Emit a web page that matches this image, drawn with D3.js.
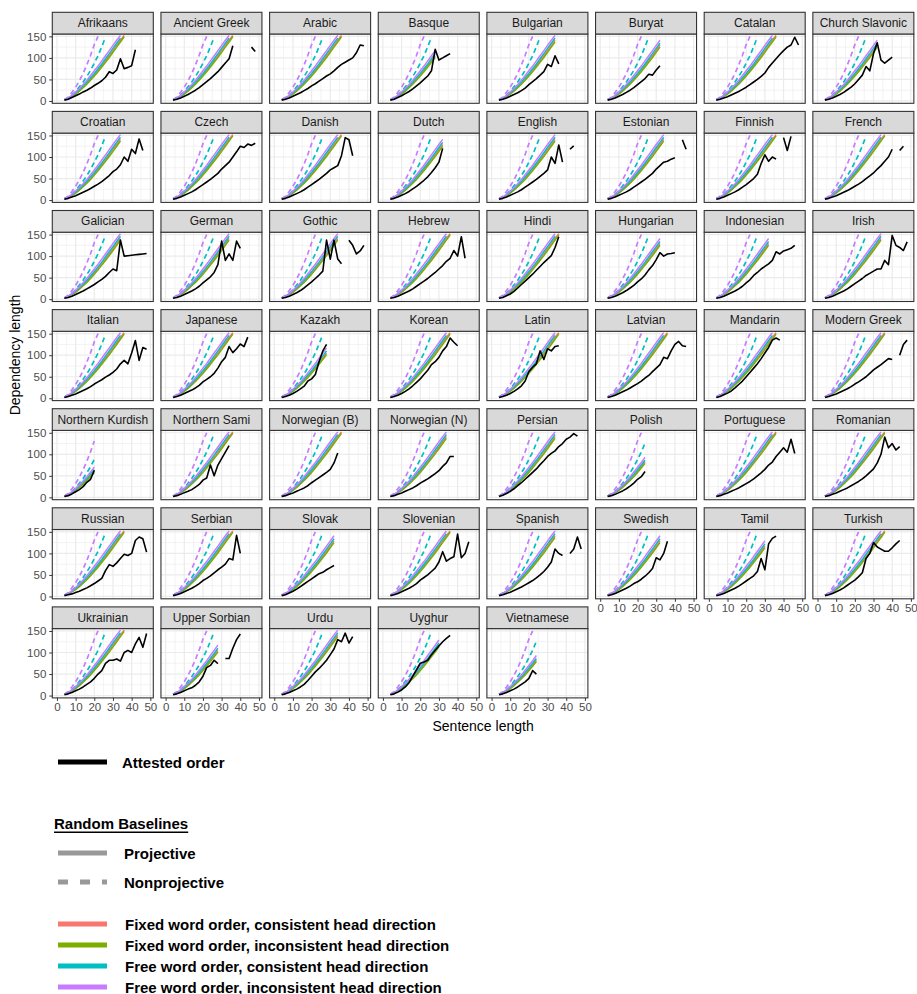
<!DOCTYPE html>
<html>
<head>
<meta charset="utf-8">
<script src="https://cdn.jsdelivr.net/npm/d3@7"></script>
<style>
  body { margin: 0; background: #fff; }
  text { font-family: "Liberation Sans", Arial, Helvetica, sans-serif; }
</style>
</head>
<body>
<script>
// facet names, in panel order
const languages = ["Afrikaans","Ancient Greek","Arabic","Basque","Bulgarian","Buryat","Catalan","Church Slavonic",
  "Croatian","Czech","Danish","Dutch","English","Estonian","Finnish","French",
  "Galician","German","Gothic","Hebrew","Hindi","Hungarian","Indonesian","Irish",
  "Italian","Japanese","Kazakh","Korean","Latin","Latvian","Mandarin","Modern Greek",
  "Northern Kurdish","Northern Sami","Norwegian (B)","Norwegian (N)","Persian","Polish","Portuguese","Romanian",
  "Russian","Serbian","Slovak","Slovenian","Spanish","Swedish","Tamil","Turkish",
  "Ukrainian","Upper Sorbian","Urdu","Uyghur","Vietnamese"];

// sentence lengths for the attested series
const lengths = [4,6,8,10,12,14,16,18,20,22,24,26,28,30,32,34,36,38,40,42,44,46,48];
const _ = null;

// attested order, mean dependency length per sentence length (one row per language)
const attested = [
  [2,4,8,12,16,21,25,30,36,41,47,55,68,64,72,98,75,78,82,119,_,_,_],        // Afrikaans
  [2,4,7,11,15,20,25,31,38,45,52,60,68,78,88,98,128,_,_,_,_,125,115],       // Ancient Greek
  [2,4,7,11,15,19,24,29,35,40,46,52,58,63,70,78,85,90,95,100,112,130,128],  // Arabic
  [2,4,8,12,17,22,28,35,42,50,58,70,120,95,100,105,110,_,_,_,_,_,_],        // Basque
  [2,4,7,11,15,19,24,30,38,45,52,60,68,85,80,105,86,_,_,_,_,_,_],           // Bulgarian
  [2,4,7,11,15,20,25,31,38,45,52,62,60,72,82,_,_,_,_,_,_,_,_],              // Buryat
  [2,4,7,10,14,18,22,27,32,38,44,50,57,65,78,88,98,108,117,125,130,148,130],// Catalan
  [2,4,7,11,15,20,26,32,40,50,60,80,70,110,135,95,88,95,102,_,_,_,_],       // Church Slavonic
  [2,4,7,10,14,18,22,27,32,37,43,50,57,66,72,82,100,90,118,108,142,115,_],  // Croatian
  [2,4,7,11,15,19,24,30,36,42,48,55,62,72,80,88,100,112,125,122,130,127,132], // Czech
  [2,4,7,11,15,19,24,30,36,42,48,55,62,70,75,80,103,145,140,103,_,_,_],     // Danish
  [2,4,7,11,15,20,26,32,39,46,54,64,75,88,120,_,_,_,_,_,_,_,_],             // Dutch
  [2,4,7,11,15,19,24,30,36,42,48,55,62,70,100,85,128,88,_,118,126,_,_],     // English
  [2,4,7,11,15,19,24,30,36,42,48,55,62,72,80,88,90,95,98,_,140,118,_],      // Estonian
  [2,4,7,11,15,19,24,30,36,43,50,60,85,105,90,100,95,_,145,115,148,_,_],    // Finnish
  [2,4,7,10,14,18,22,27,32,37,43,50,56,63,72,80,90,100,118,_,115,125,_],    // French
  [2,4,7,11,15,19,24,29,34,40,46,53,62,70,66,137,100,101,102,103,104,105,106], // Galician
  [2,4,7,11,15,19,24,30,38,45,52,62,80,135,90,105,90,135,118,_,_,_,_],      // German
  [2,4,7,11,15,20,26,33,40,48,56,65,137,93,137,93,82,_,137,125,105,112,125],// Gothic
  [2,4,7,11,15,19,24,30,36,42,48,55,62,70,78,88,95,113,100,145,95,_,_],     // Hebrew
  [2,4,8,12,18,26,34,42,50,58,67,76,85,93,101,120,145,_,_,_,_,_,_],         // Hindi
  [2,4,7,11,15,20,26,32,40,47,56,68,78,92,108,100,105,106,108,_,_,_,_],     // Hungarian
  [2,4,7,11,15,19,24,30,38,45,55,62,70,76,82,90,110,105,112,115,118,125,_], // Indonesian
  [2,4,7,11,15,19,24,30,36,42,48,55,60,65,70,70,90,80,148,125,120,113,133], // Irish
  [2,4,7,10,14,18,22,27,33,38,43,49,54,60,68,80,88,80,105,134,88,118,114],  // Italian
  [2,4,7,11,15,19,24,30,38,44,50,58,70,85,95,120,106,115,126,120,142,_,_],  // Japanese
  [2,4,7,11,16,22,28,40,45,55,85,110,125,_,_,_,_,_,_,_,_,_,_],              // Kazakh
  [2,4,7,11,16,22,29,37,45,55,65,78,85,95,110,120,140,130,122,_,_,_,_],     // Korean
  [2,4,7,11,16,22,29,40,62,72,80,110,90,115,110,120,122,_,_,_,_,_,_],       // Latin
  [2,4,7,11,15,19,24,29,34,40,47,53,62,70,78,95,92,110,125,132,122,120,_],  // Latvian
  [2,4,8,12,17,24,32,40,50,60,70,80,92,105,118,135,140,135,_,_,_,_,_],      // Mandarin
  [2,4,7,10,14,18,22,27,33,38,44,50,58,66,72,78,85,92,90,_,100,125,135],    // Modern Greek
  [2,4,8,13,18,25,35,42,63,_,_,_,_,_,_,_,_,_,_,_,_,_,_],                    // Northern Kurdish
  [2,4,7,11,14,18,24,30,40,45,75,50,75,90,105,120,_,_,_,_,_,_,_],           // Northern Sami
  [2,4,7,10,14,18,22,27,34,40,46,52,58,65,80,103,_,_,_,_,_,_,_],            // Norwegian (B)
  [2,4,7,10,14,18,22,27,33,38,43,49,55,62,72,80,95,95,_,_,_,_,_],           // Norwegian (N)
  [2,5,9,14,20,27,34,42,50,58,66,76,85,95,102,108,118,125,135,140,148,142,_], // Persian
  [2,4,7,11,15,20,26,33,42,48,60,_,_,_,_,_,_,_,_,_,_,_,_],                  // Polish
  [2,4,7,10,14,18,22,27,32,37,43,50,57,65,75,82,95,105,115,105,135,102,_],  // Portuguese
  [2,4,7,10,14,18,22,27,32,37,43,50,58,66,80,100,140,115,125,110,118,_,_],  // Romanian
  [2,4,6,9,12,16,20,25,30,36,42,60,74,70,78,88,98,95,100,130,138,134,103],  // Russian
  [2,4,7,11,15,19,24,30,37,42,48,55,62,68,75,88,85,142,100,_,_,_,_],        // Serbian
  [2,4,8,12,17,23,29,35,41,47,53,56,62,67,72,_,_,_,_,_,_,_,_],              // Slovak
  [2,4,7,11,15,19,24,30,38,44,50,58,66,80,104,82,88,92,145,90,100,127,_],   // Slovenian
  [2,4,7,10,14,18,22,27,32,37,43,50,58,68,80,110,100,95,_,100,110,138,110], // Spanish
  [2,4,7,11,15,19,24,30,34,40,47,55,65,90,85,100,128,_,_,_,_,_,_],          // Swedish
  [2,4,7,11,15,19,24,30,36,42,48,58,88,62,122,135,140,_,_,_,_,_,_],         // Tamil
  [2,4,7,11,15,20,26,32,38,46,55,88,100,125,115,110,105,105,113,122,130,_,_], // Turkish
  [2,4,7,11,15,20,26,32,40,50,58,75,82,82,85,80,100,105,100,120,135,112,144], // Ukrainian
  [2,4,7,11,15,18,24,32,45,65,70,82,74,_,86,86,110,130,143,_,_,_,_],        // Upper Sorbian
  [2,4,7,11,15,20,26,35,45,55,63,72,82,95,108,130,125,145,122,137,_,_,_],   // Urdu
  [2,4,8,13,20,30,45,60,75,78,82,95,105,115,125,133,140,_,_,_,_,_,_],       // Uyghur
  [2,4,7,11,15,20,26,32,40,58,50,_,_,_,_,_,_,_,_,_,_,_,_]                   // Vietnamese
];

// random baselines (very similar in every language)
const baseLengths = [4,6,8,10,12,14,16,18,20,22,24,26,28,30,32,34,36];
const projFixedCon = [3,6,11,17,24,32,41,50,60,71,82,93,105,117,129,141,152];
const projFixedInc = [3,6,11,16,23,31,39,48,58,68,79,90,101,113,125,137,149];
const projFreeCon  = [3,7,12,19,27,35,44,54,64,75,86,98,110,122,134,146,_];
const projFreeInc  = [3,7,13,21,29,38,48,59,70,81,93,105,117,129,141,152,_];

const nonprojLengths = [4,6,8,10,12,14,16,18,20,22,24,26];
const nonprojFreeCon = [3,7,14,22,33,44,57,71,88,105,126,148];
const nonprojFreeInc = [3,9,20,32,47,64,84,106,131,150,_,_];

// longest sentence length covered by the baselines in each language
const projEnd = [40,37,36,28,35,32,36,33, 35,36,37,33,34,34,36,37, 35,34,34,37,36,33,32,35,
  36,37,28,36,36,36,36,37, 20,36,37,34,34,25,36,36, 37,37,33,38,35,33,31,38, 36,29,35,31,24];
const nonprojEnd = [26,26,26,26,26,26,26,26, 26,26,26,26,26,26,26,26, 26,26,26,26,26,26,26,26,
  26,26,26,26,26,26,26,26, 20,26,26,26,26,24,26,26, 26,26,26,26,26,26,26,26, 26,26,26,26,24];

const xTicks = [0,10,20,30,40,50];
const yTicks = [0,50,100,150];

const colors = {fixedCon: "#F8766D", fixedInc: "#7CAE00", freeCon: "#00BFC4", freeInc: "#C77CFF"};

// layout
const width = 917, height = 994;
const panelLeft = 52.3, colStep = 108.65, panelW = 101;
const stripTop = 12.3, rowStep = 99.1, stripH = 21.7, panelH = 69.3;
const ncol = 8;

const svg = d3.select("body").append("svg").attr("width", width).attr("height", height);

svg.append("defs").append("clipPath").attr("id", "clip")
  .append("rect").attr("width", panelW).attr("height", panelH);

const x = d3.scaleLinear().domain([-2.5, 51.6]).range([0, panelW]);
const y = d3.scaleLinear().domain([-5.4, 155.5]).range([panelH, 0]);

const line = d3.line()
  .defined(d => d[1] != null)
  .x(d => x(d[0]))
  .y(d => y(d[1]));

languages.forEach((lang, i) => {
  const col = i % ncol, row = Math.floor(i / ncol);
  const g = svg.append("g")
    .attr("transform", `translate(${panelLeft + col * colStep}, ${stripTop + stripH + row * rowStep})`);

  g.append("rect").attr("width", panelW).attr("height", panelH).attr("fill", "#fff");

  // grid
  const grid = g.append("g");
  [5,15,25,35,45].forEach(v => grid.append("line")
    .attr("x1", x(v)).attr("x2", x(v)).attr("y1", 0).attr("y2", panelH)
    .attr("stroke", "#EBEBEB").attr("stroke-width", 0.6));
  [25,75,125].forEach(v => grid.append("line")
    .attr("y1", y(v)).attr("y2", y(v)).attr("x1", 0).attr("x2", panelW)
    .attr("stroke", "#EBEBEB").attr("stroke-width", 0.6));
  xTicks.forEach(v => grid.append("line")
    .attr("x1", x(v)).attr("x2", x(v)).attr("y1", 0).attr("y2", panelH)
    .attr("stroke", "#EBEBEB").attr("stroke-width", 1.2));
  yTicks.forEach(v => grid.append("line")
    .attr("y1", y(v)).attr("y2", y(v)).attr("x1", 0).attr("x2", panelW)
    .attr("stroke", "#EBEBEB").attr("stroke-width", 1.2));

  const lines = g.append("g").attr("clip-path", "url(#clip)");

  // nonprojective baselines, dashed
  [[nonprojFreeCon, colors.freeCon], [nonprojFreeInc, colors.freeInc]].forEach(([vals, c]) => {
    const pts = nonprojLengths.map((l, j) => [l, vals[j]]).filter(d => d[0] <= nonprojEnd[i]);
    lines.append("path").attr("d", line(pts))
      .attr("fill", "none").attr("stroke", c).attr("stroke-width", 1.7)
      .attr("stroke-dasharray", "5,3.5");
  });

  // projective baselines, solid
  [[projFixedCon, colors.fixedCon], [projFixedInc, colors.fixedInc],
   [projFreeCon, colors.freeCon], [projFreeInc, colors.freeInc]].forEach(([vals, c]) => {
    const pts = baseLengths.map((l, j) => [l, vals[j]]).filter(d => d[0] <= projEnd[i]);
    lines.append("path").attr("d", line(pts))
      .attr("fill", "none").attr("stroke", c).attr("stroke-width", 1.5);
  });

  // attested order
  lines.append("path").attr("d", line(lengths.map((l, j) => [l, attested[i][j]])))
    .attr("fill", "none").attr("stroke", "#000").attr("stroke-width", 1.6)
    .attr("stroke-linejoin", "round");

  g.append("rect").attr("width", panelW).attr("height", panelH)
    .attr("fill", "none").attr("stroke", "#333333").attr("stroke-width", 1.1);

  // strip
  g.append("rect").attr("y", -stripH).attr("width", panelW).attr("height", stripH)
    .attr("fill", "#D9D9D9").attr("stroke", "#333333").attr("stroke-width", 1.1);
  g.append("text").attr("x", panelW / 2).attr("y", -stripH / 2)
    .attr("text-anchor", "middle").attr("dominant-baseline", "central")
    .attr("font-size", 12).attr("fill", "#1A1A1A").text(lang);

  // axes
  if (col === 0) {
    const ax = g.append("g").call(d3.axisLeft(y).tickValues(yTicks).tickSize(3).tickPadding(3));
    ax.select(".domain").remove();
    ax.selectAll("line").attr("stroke", "#333333");
    ax.selectAll("text").attr("font-size", 11.5).attr("fill", "#4D4D4D").attr("font-family", null);
  }
  if (i + ncol >= languages.length) {
    const ax = g.append("g").attr("transform", `translate(0, ${panelH})`)
      .call(d3.axisBottom(x).tickValues(xTicks).tickSize(3).tickPadding(2));
    ax.select(".domain").remove();
    ax.selectAll("line").attr("stroke", "#333333");
    ax.selectAll("text").attr("font-size", 11.5).attr("fill", "#4D4D4D").attr("font-family", null);
  }
});

// axis titles
svg.append("text").attr("x", panelLeft + (colStep * 7 + panelW) / 2).attr("y", 731)
  .attr("text-anchor", "middle").attr("font-size", 14).text("Sentence length");
svg.append("text").attr("transform", "translate(15, 355) rotate(-90)")
  .attr("text-anchor", "middle").attr("dominant-baseline", "central")
  .attr("font-size", 14).text("Dependency length");

// legend
const legendKeyX1 = 58, legendKeyX2 = 107;
const legend = svg.append("g").attr("font-weight", "bold").attr("font-size", 15);

legend.append("line").attr("x1", legendKeyX1).attr("x2", legendKeyX2).attr("y1", 762).attr("y2", 762)
  .attr("stroke", "#000").attr("stroke-width", 5);
legend.append("text").attr("x", 122).attr("y", 762).attr("dominant-baseline", "central").text("Attested order");

legend.append("text").attr("x", 54).attr("y", 823).attr("dominant-baseline", "central")
  .attr("text-decoration", "underline").text("Random Baselines");

const styleItems = [["Projective", null, 853], ["Nonprojective", "10,12", 882]];
styleItems.forEach(([label, dash, yy]) => {
  legend.append("line").attr("x1", legendKeyX1).attr("x2", legendKeyX2).attr("y1", yy).attr("y2", yy)
    .attr("stroke", "#999999").attr("stroke-width", 5).attr("stroke-dasharray", dash);
  legend.append("text").attr("x", 124).attr("y", yy).attr("dominant-baseline", "central").text(label);
});

const colorItems = [
  ["Fixed word order, consistent head direction", colors.fixedCon, 924],
  ["Fixed word order, inconsistent head direction", colors.fixedInc, 945],
  ["Free word order, consistent head direction", colors.freeCon, 966],
  ["Free word order, inconsistent head direction", colors.freeInc, 987]
];
colorItems.forEach(([label, c, yy]) => {
  legend.append("line").attr("x1", legendKeyX1).attr("x2", legendKeyX2).attr("y1", yy).attr("y2", yy)
    .attr("stroke", c).attr("stroke-width", 5);
  legend.append("text").attr("x", 125).attr("y", yy).attr("dominant-baseline", "central").text(label);
});
</script>
</body>
</html>
